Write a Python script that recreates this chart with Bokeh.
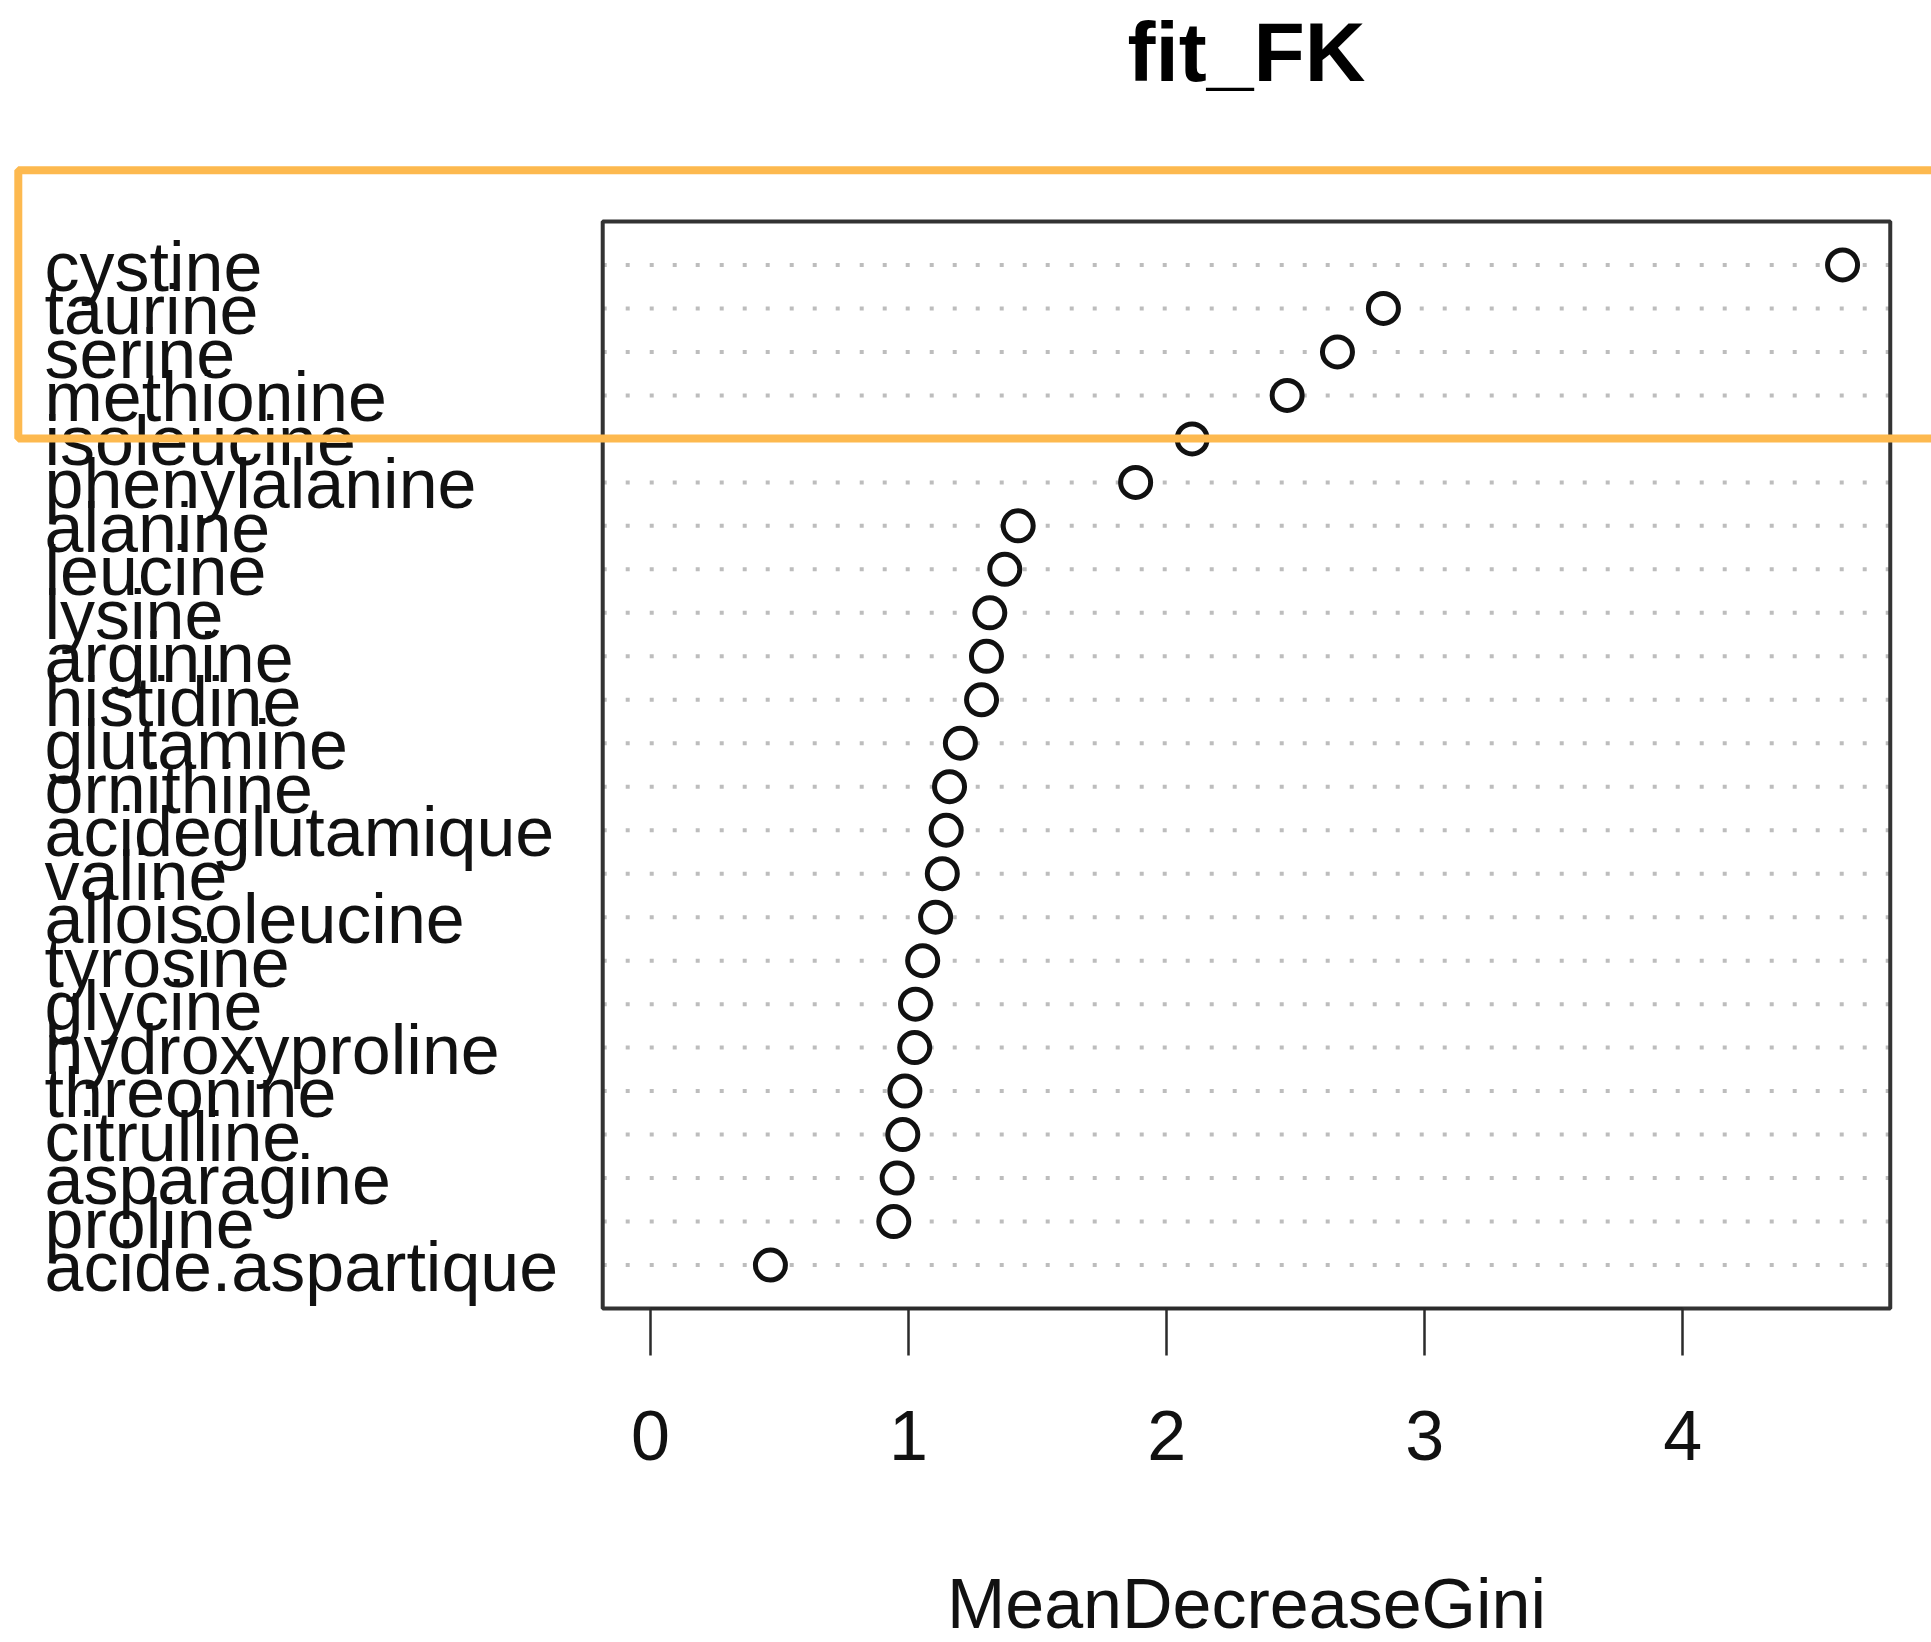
from bokeh.plotting import figure
from bokeh.models import Range1d, FixedTicker, BoxAnnotation, ColumnDataSource
from bokeh.embed import file_html
from bokeh.resources import INLINE
from bokeh.core.properties import value

# ---------------- data ----------------
features = ["cystine", "taurine", "serine", "methionine", "isoleucine",
            "phenylalanine", "alanine", "leucine", "lysine", "arginine",
            "histidine", "glutamine", "ornithine", "acideglutamique", "valine",
            "alloisoleucine", "tyrosine", "glycine", "hydroxyproline",
            "threonine", "citrulline", "asparagine", "proline",
            "acide.aspartique"]
mean_decrease_gini = [4.619, 2.840, 2.662, 2.467, 2.099,
                      1.880, 1.425, 1.373, 1.315, 1.302,
                      1.283, 1.201, 1.159, 1.146, 1.131,
                      1.105, 1.055, 1.027, 1.024,
                      0.986, 0.978, 0.956, 0.943,
                      0.465]
x_ticks = [0, 1, 2, 3, 4]
x_tick_labels = ["0", "1", "2", "3", "4"]
title_text = "fit_FK"
x_label_text = "MeanDecreaseGini"
n_highlighted = 4   # top features framed by the orange box

# ---------------- layout constants (pixels) ----------------
W, H = 1931, 1642
PX_PER_UNIT = 258.1          # px per MeanDecreaseGini unit
ZERO_PX = 649.9              # x pixel of value 0
PX_PER_ROW = 43.48
ROW0_PX = 1308               # y pixel of row 0 (box bottom)
FONT = "Liberation Sans"
TXT = "#111111"

def px_to_x(px):
    return (px - ZERO_PX) / PX_PER_UNIT

def px_to_row(py):
    return (ROW0_PX - py) / PX_PER_ROW

n = len(features)
rows = list(range(n, 0, -1))
M = max(mean_decrease_gini)
xlim = (0 - 0.04 * M, M + 0.04 * M)     # R dotchart: xlim = c(0, max) + 4%
ylim = (0, n + 1)
x_mid = (xlim[0] + xlim[1]) / 2

x_range = Range1d(px_to_x(0), px_to_x(W))
y_range = Range1d(px_to_row(H), px_to_row(0))

p = figure(width=W, height=H, x_range=x_range, y_range=y_range,
           y_axis_location=None, toolbar_location=None, output_backend="svg",
           min_border=0)
p.outline_line_color = None
p.grid.visible = False
p.background_fill_color = "white"
p.border_fill_color = "white"

src = ColumnDataSource(dict(
    feature=features,
    value=mean_decrease_gini,
    row=rows,
    x0=[xlim[0]] * n,
    x1=[xlim[1]] * n,
    lab_x=[px_to_x(44)] * n,
))

# dotted guide lines for each feature
p.segment(x0="x0", x1="x1", y0="row", y1="row", source=src,
          line_color="#bdbdbd", line_width=4, line_dash="4 19 4 20 4 19")

# plot box
p.quad(left=[xlim[0]], right=[xlim[1]], bottom=[ylim[0]], top=[ylim[1]],
       fill_color=None, line_color="#333333", line_width=4)

# points
p.scatter(x="value", y="row", source=src, marker="circle", size=30,
          fill_color="white", line_color="#111111", line_width=5)

# feature labels (left aligned as in R dotchart)
p.text(x="lab_x", y="row", text="feature", source=src,
       text_font=value(FONT), text_font_size="70px", text_color=TXT,
       text_align="left", text_baseline="middle", y_offset=2)

# title and x-axis title
p.text(x=[x_mid], y=[px_to_row(51)], text=[title_text],
       text_font=value(FONT), text_font_size="84px", text_font_style="bold",
       text_color="#000000", text_align="center", text_baseline="middle")
p.text(x=[x_mid], y=[px_to_row(1603)], text=[x_label_text],
       text_font=value(FONT), text_font_size="70px",
       text_color=TXT, text_align="center", text_baseline="middle")

# x axis, drawn along the bottom of the box
ax = p.xaxis[0]
ax.fixed_location = ylim[0]
ax.ticker = FixedTicker(ticks=x_ticks)
ax.major_label_overrides = {t: l for t, l in zip(x_ticks, x_tick_labels)}
ax.bounds = (x_ticks[0], x_ticks[-1])
ax.axis_line_width = 3
ax.axis_line_color = "#2b2b2b"
ax.major_tick_line_width = 2.5
ax.major_tick_line_color = "#2b2b2b"
ax.major_tick_out = 47
ax.major_tick_in = 0
ax.minor_tick_out = 0
ax.minor_tick_in = 0
ax.major_label_text_font = FONT
ax.major_label_text_font_size = "70px"
ax.major_label_text_color = TXT
ax.major_label_standoff = 55

# orange highlight frame around the top features
top_rows = rows[:n_highlighted]
p.add_layout(BoxAnnotation(left=px_to_x(17.8), right=x_range.end + 2,
                           top=max(top_rows) + 2.18, bottom=min(top_rows) - 0.99,
                           fill_alpha=0, line_alpha=1,
                           line_color="#FDB94F", line_width=8))

open("out.html", "w").write(file_html(p, INLINE))
